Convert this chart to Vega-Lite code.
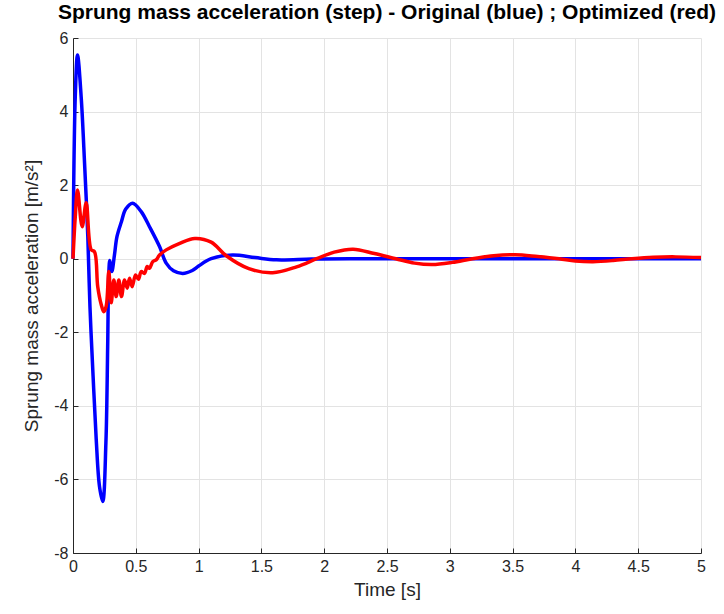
{
  "$schema": "https://vega.github.io/schema/vega-lite/v6.json",
  "width": 628,
  "height": 515,
  "autosize": "none",
  "padding": {"left": 73, "top": 38, "right": 23, "bottom": 61},
  "background": "white",
  "config": {
    "view": {"stroke": null},
    "font": "Liberation Sans",
    "axis": {
      "domainColor": "#262626",
      "tickColor": "#262626",
      "labelColor": "#262626",
      "titleColor": "#262626",
      "gridColor": "#e3e3e3",
      "gridWidth": 1,
      "labelFont": "Liberation Sans",
      "titleFont": "Liberation Sans",
      "labelFontSize": 16,
      "titleFontSize": 19,
      "titleFontWeight": "normal",
      "tickSize": -5
    }
  },
  "title": {
    "text": "Sprung mass acceleration (step) - Original (blue) ; Optimized (red)",
    "font": "Liberation Sans",
    "fontSize": 21,
    "fontWeight": "bold",
    "color": "#000000",
    "anchor": "middle",
    "offset": 7
  },
  "datasets": {
    "original": [
      {"t": 0, "a": 0}, {"t": 0.018, "a": 4.4}, {"t": 0.036, "a": 5.54}, {"t": 0.065, "a": 4.4},
      {"t": 0.092, "a": 2.6}, {"t": 0.118, "a": 0.6}, {"t": 0.135, "a": -1.3}, {"t": 0.16, "a": -3.2},
      {"t": 0.185, "a": -4.92}, {"t": 0.211, "a": -6.19}, {"t": 0.237, "a": -6.6}, {"t": 0.262, "a": -5.0},
      {"t": 0.276, "a": -2.4}, {"t": 0.285, "a": -0.4}, {"t": 0.293, "a": -0.05}, {"t": 0.309, "a": -0.35},
      {"t": 0.33, "a": 0.1}, {"t": 0.35, "a": 0.6}, {"t": 0.385, "a": 1.0}, {"t": 0.42, "a": 1.35},
      {"t": 0.475, "a": 1.51}, {"t": 0.543, "a": 1.28}, {"t": 0.609, "a": 0.87}, {"t": 0.689, "a": 0.33},
      {"t": 0.742, "a": -0.12}, {"t": 0.8, "a": -0.33}, {"t": 0.874, "a": -0.4}, {"t": 0.95, "a": -0.32},
      {"t": 1.0, "a": -0.2}, {"t": 1.1, "a": 0.0}, {"t": 1.27, "a": 0.1}, {"t": 1.45, "a": 0.03},
      {"t": 1.62, "a": -0.03}, {"t": 1.9, "a": -0.01}, {"t": 2.2, "a": 0.0}, {"t": 3.0, "a": 0.0},
      {"t": 4.0, "a": 0.0}, {"t": 5.0, "a": 0.0}
    ],
    "optimized": [
      {"t": 0, "a": 0}, {"t": 0.018, "a": 1.14}, {"t": 0.036, "a": 1.87}, {"t": 0.073, "a": 0.87},
      {"t": 0.105, "a": 1.52}, {"t": 0.145, "a": 0.24}, {"t": 0.171, "a": 0.19}, {"t": 0.197, "a": -0.76},
      {"t": 0.225, "a": -1.25}, {"t": 0.245, "a": -1.44}, {"t": 0.264, "a": -1.3}, {"t": 0.285, "a": -0.35},
      {"t": 0.304, "a": -1.2}, {"t": 0.325, "a": -0.58}, {"t": 0.344, "a": -1.03}, {"t": 0.365, "a": -0.58},
      {"t": 0.386, "a": -1.03}, {"t": 0.41, "a": -0.58}, {"t": 0.432, "a": -0.8}, {"t": 0.45, "a": -0.53},
      {"t": 0.471, "a": -0.76}, {"t": 0.498, "a": -0.44}, {"t": 0.521, "a": -0.56}, {"t": 0.543, "a": -0.35},
      {"t": 0.569, "a": -0.4}, {"t": 0.591, "a": -0.21}, {"t": 0.609, "a": -0.26}, {"t": 0.635, "a": -0.08},
      {"t": 0.662, "a": -0.03}, {"t": 0.689, "a": 0.1}, {"t": 0.742, "a": 0.24}, {"t": 0.85, "a": 0.42},
      {"t": 0.97, "a": 0.55}, {"t": 1.1, "a": 0.45}, {"t": 1.22, "a": 0.08}, {"t": 1.4, "a": -0.27},
      {"t": 1.59, "a": -0.38}, {"t": 1.78, "a": -0.22}, {"t": 1.94, "a": 0.0}, {"t": 2.08, "a": 0.18},
      {"t": 2.23, "a": 0.26}, {"t": 2.4, "a": 0.14}, {"t": 2.57, "a": 0.0}, {"t": 2.72, "a": -0.12},
      {"t": 2.86, "a": -0.16}, {"t": 3.02, "a": -0.1}, {"t": 3.18, "a": 0.0}, {"t": 3.35, "a": 0.08},
      {"t": 3.52, "a": 0.11}, {"t": 3.7, "a": 0.06}, {"t": 3.87, "a": 0.0}, {"t": 4.0, "a": -0.06},
      {"t": 4.14, "a": -0.08}, {"t": 4.3, "a": -0.05}, {"t": 4.45, "a": 0.0}, {"t": 4.62, "a": 0.04},
      {"t": 4.8, "a": 0.05}, {"t": 5.0, "a": 0.03}
    ]
  },
  "encoding": {
    "x": {
      "field": "t", "type": "quantitative",
      "scale": {"domain": [0, 5], "nice": false},
      "axis": {"values": [0, 0.5, 1, 1.5, 2, 2.5, 3, 3.5, 4, 4.5, 5], "labelExpr": "'' + datum.value", "title": "Time [s]", "labelPadding": 10, "titlePadding": 6, "labelFlush": false}
    },
    "y": {
      "field": "a", "type": "quantitative",
      "scale": {"domain": [-8, 6], "nice": false},
      "axis": {"values": [-8, -6, -4, -2, 0, 2, 4, 6], "labelExpr": "'' + datum.value", "title": "Sprung mass acceleration [m/s²]", "labelPadding": 10, "titlePadding": 12, "labelFlush": false}
    }
  },
  "layer": [
    {
      "data": {"name": "original"},
      "mark": {"type": "line", "color": "#0000ff", "strokeWidth": 3.5, "interpolate": "catmull-rom"}
    },
    {
      "data": {"name": "optimized"},
      "mark": {"type": "line", "color": "#ff0000", "strokeWidth": 3.5, "interpolate": "catmull-rom"}
    }
  ]
}
